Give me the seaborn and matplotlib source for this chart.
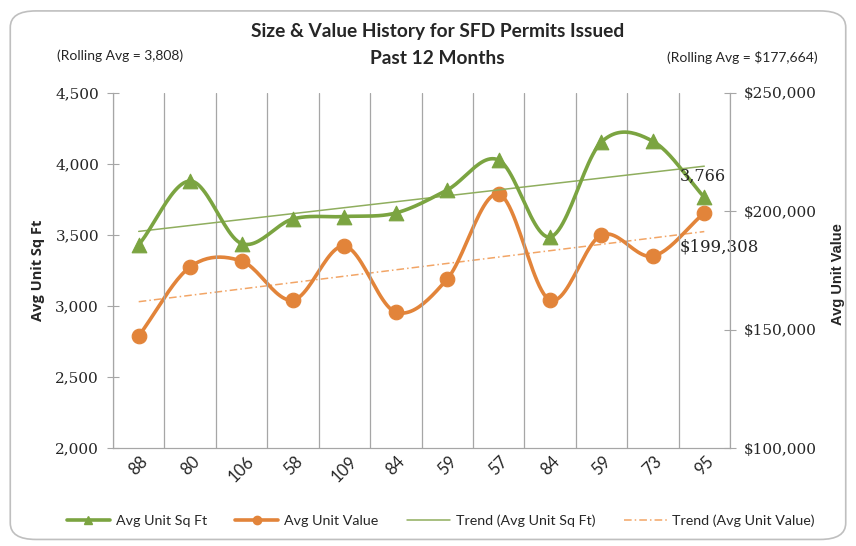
import numpy as np
import pandas as pd
import seaborn as sns
import matplotlib.pyplot as plt
from matplotlib.patches import FancyBboxPatch
from matplotlib.lines import Line2D
from matplotlib.ticker import FuncFormatter

sns.set_style("white")
plt.rcParams["font.family"] = ["Lato", "DejaVu Sans"]

# ---- data ----
permits = ["88", "80", "106", "58", "109", "84", "59", "57", "84", "59", "73", "95"]
sqft = [3430, 3880, 3440, 3613, 3630, 3655, 3817, 4028, 3486, 4155, 4160, 3766]
value = [147300, 176500, 179000, 162500, 185300, 157400, 171400, 207300,
         162500, 190000, 181100, 199308]

pos = np.arange(len(permits))
df = pd.DataFrame({"pos": pos, "sqft": sqft, "value": value})

green = "#7BA441"
orange = "#E2843A"
grid_c = "#A6A6A6"
serif = ["DejaVu Serif"]


def smooth(x, y, n=24):
    # Catmull-Rom curve through the points (Excel "smoothed line" look)
    x = np.asarray(x, float)
    y = np.asarray(y, float)
    px = np.r_[2 * x[0] - x[1], x, 2 * x[-1] - x[-2]]
    py = np.r_[2 * y[0] - y[1], y, 2 * y[-1] - y[-2]]
    xs, ys = [], []
    t = np.linspace(0, 1, n, endpoint=False)
    for i in range(1, len(px) - 2):
        for p, out in ((px, xs), (py, ys)):
            p0, p1, p2, p3 = p[i - 1], p[i], p[i + 1], p[i + 2]
            out.extend(0.5 * (2 * p1 + (-p0 + p2) * t
                              + (2 * p0 - 5 * p1 + 4 * p2 - p3) * t ** 2
                              + (-p0 + 3 * p1 - 3 * p2 + p3) * t ** 3))
    xs.append(x[-1])
    ys.append(y[-1])
    return np.array(xs), np.array(ys)


fig = plt.figure(figsize=(8.56, 5.46), dpi=100, facecolor="w")
ax = fig.add_axes([113 / 856, 1 - 448 / 546, 617 / 856, 355 / 546])
ax2 = ax.twinx()
ax.set_zorder(ax2.get_zorder() + 1)
ax.patch.set_visible(False)

# trend lines
k1, b1 = np.polyfit(pos, sqft, 1)
k2, b2 = np.polyfit(pos, value, 1)
ax.plot(pos, k1 * pos + b1, color="#8FAE5E", lw=1.1, zorder=2)
ax2.plot(pos, k2 * pos + b2, color="#F2A566", lw=1.1, ls=(0, (5, 2, 1, 2)), zorder=2)

# smoothed series + markers
sx, sy = smooth(pos, sqft)
ax.plot(sx, sy, color=green, lw=2.6, zorder=3)
sns.scatterplot(data=df, x="pos", y="sqft", marker="^", s=110, color=green,
                edgecolor=green, ax=ax, zorder=4)
vx, vy = smooth(pos, value)
ax2.plot(vx, vy, color=orange, lw=2.6, zorder=3)
sns.scatterplot(data=df, x="pos", y="value", marker="o", s=110, color=orange,
                edgecolor=orange, ax=ax2, zorder=4)

ax.set_xlim(-0.5, 11.5)
ax.set_ylim(2000, 4500)
ax2.set_ylim(100000, 250000)
ax.set_yticks(range(2000, 4501, 500))
ax2.set_yticks(range(100000, 250001, 50000))
ax.yaxis.set_major_formatter(FuncFormatter(lambda v, p: f"{v:,.0f}"))
ax2.yaxis.set_major_formatter(FuncFormatter(lambda v, p: f"${v:,.0f}"))

ax.set_xticks(pos)
ax.set_xticklabels(permits, rotation=45, ha="center", fontsize=12)
ax.set_xticks(np.arange(-0.5, 12, 1), minor=True)
ax.grid(which="minor", axis="x", color=grid_c, lw=0.9)
ax.tick_params(axis="x", which="major", length=0, pad=4)
ax.tick_params(axis="x", which="minor", length=5, color=grid_c)
ax.tick_params(axis="y", length=8, color=grid_c, direction="inout", pad=6)
ax2.tick_params(axis="y", length=8, color=grid_c, direction="inout", pad=6)
for lab in ax.get_yticklabels() + ax2.get_yticklabels():
    lab.set_family(serif)
    lab.set_fontsize(11)

for a in (ax, ax2):
    for s in a.spines.values():
        s.set_color(grid_c)
    a.spines["top"].set_visible(False)
ax.set_xlabel("")
ax.set_ylabel("Avg Unit Sq Ft", family=["Open Sans", "DejaVu Sans"],
              fontweight="bold", fontsize=10.5)
ax.yaxis.set_label_coords(-0.11, 0.5)
ax2.set_ylabel("Avg Unit Value", family=["Liberation Sans", "DejaVu Sans"],
               fontweight="bold", fontsize=10.5)
ax2.yaxis.set_label_coords(1.163, 0.49)

# data labels on last points
ax.annotate(f"{sqft[-1]:,}", (pos[-1], sqft[-1]), xytext=(-1, 12), textcoords="offset points",
            ha="center", family=serif, fontsize=11.5)
ax2.annotate(f"${value[-1]:,}", (pos[-1], value[-1]), xytext=(11, -28), textcoords="offset points",
             ha="center", family=serif, fontsize=12)

# titles and notes
fig.text(0.511, 1 - 32 / 546, "Size & Value History for SFD Permits Issued",
         ha="center", va="center", fontsize=13.8, fontweight="bold")
fig.text(0.511, 1 - 58 / 546, "Past 12 Months", ha="center", va="center",
         fontsize=13.8, fontweight="bold")
fig.text(120 / 856, 1 - 56 / 546, "(Rolling Avg = 3,808)", ha="center", va="center", fontsize=10)
fig.text(742 / 856, 1 - 58 / 546, "(Rolling Avg = $177,664)", ha="center", va="center", fontsize=10)

handles = [
    Line2D([], [], color=green, lw=2.6, marker="^", ms=6),
    Line2D([], [], color=orange, lw=2.6, marker="o", ms=6),
    Line2D([], [], color="#8FAE5E", lw=1.1),
    Line2D([], [], color="#F2A566", lw=1.1, ls=(0, (5, 2, 1, 2))),
]
labels = ["Avg Unit Sq Ft", "Avg Unit Value", "Trend (Avg Unit Sq Ft)", "Trend (Avg Unit Value)"]
fig.legend(handles, labels, loc="center", bbox_to_anchor=(0.515, 1 - 521 / 546), ncol=4,
           frameon=False, fontsize=10.3, handlelength=3, columnspacing=2.0, handletextpad=0.4)

fig.patches.append(FancyBboxPatch((0.012, 0.012), 0.976, 0.968, boxstyle="round,pad=0,rounding_size=0.03",
                                  transform=fig.transFigure, fill=False, ec="#BFBFBF", lw=1.2))

fig.savefig("out.png", dpi=100)
